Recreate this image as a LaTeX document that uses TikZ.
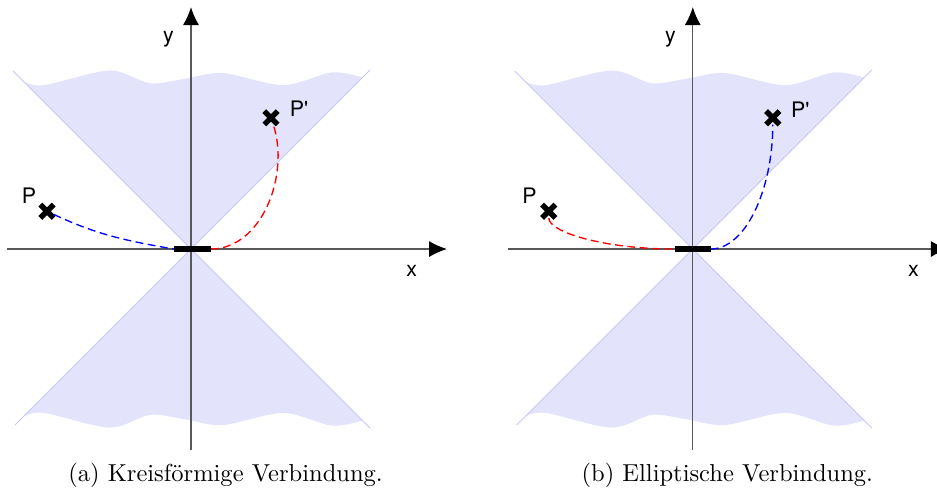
\documentclass[tikz,border=0pt]{standalone}
\usepackage{fontspec}
\usetikzlibrary{arrows.meta,shapes.misc}
\newfontfamily\labelfont{TeX Gyre Heros}
\definecolor{conefill}{RGB}{227,227,251}
\definecolor{coneline}{RGB}{200,200,246}

\begin{document}
\begin{tikzpicture}[>={Latex[length=2.8mm,width=2.5mm,black]},
    axis/.style={black!65, line width=0.55pt},
    cone/.style={coneline, line width=0.4pt},
    ptmark/.style={cross out, draw=black, line width=2.4pt, minimum size=1.25mm, inner sep=0pt},
    lbl/.style={font=\labelfont\fontsize{9.5}{11}\selectfont},
    conn/.style={dash pattern=on 3.5pt off 2pt, line width=0.6pt},
    subcap/.style={font=\fontsize{10.9}{13}\selectfont, anchor=base}]
    \useasboundingbox (-2.984,-3.875) rectangle (11.656,3.891);

    \foreach \s/\n in {0/a,7.84/b}{
        \begin{scope}[xshift=\s cm]
            \foreach \v in {1,-1}
                \fill[conefill, yscale=\v] (0,0) -- plot[smooth] coordinates {(2.68,2.68) (2.2,2.76) (1.44,2.56) (0.5,2.75) (-0.1,2.66) (-0.64,2.59) (-1.27,2.79) (-2.3,2.56) (-2.62,2.62)} -- cycle;
            \draw[cone] (-2.78,2.78) -- (2.8,-2.8) (-2.75,-2.75) -- (2.8,2.8);
            \draw[axis, ->] (0,-3.14) -- (0,3.78);
            \draw[axis, ->] (-2.88,0) -- (4,0);
            \node[lbl] (x\n) at (3.45,-0.34) {x};
            \node[lbl] (y\n) at (-0.35,3.28) {y};
        \end{scope}
    }

    % circular connection
    \coordinate (sl) at (-0.27,0);
    \coordinate (sr) at (0.31,0);
    \node[ptmark] (pa) at (-2.25,0.59) {};
    \node[ptmark] (pb) at (1.25,2.05) {};
    \draw[conn, blue] (pa) to[out=-25,in=170] (sl);
    \draw[conn, red] (sr) .. controls (1.1,0) and (1.55,1.15) .. (pb);
    \draw[line width=2.4pt] (sl) -- (sr);
    \node[lbl] (lpa) at (-2.53,0.84) {P};
    \node[lbl] (lpb) at (1.69,2.19) {P'};
    \node[subcap] (capa) at (0.54,-3.63) {(a) Kreisförmige Verbindung.};

    % elliptic connection
    \begin{scope}[xshift=7.84cm]
        \coordinate (tl) at (-0.28,0);
        \coordinate (tr) at (0.28,0);
        \node[ptmark] (qa) at (-2.25,0.59) {};
        \node[ptmark] (qb) at (1.25,2.05) {};
        \draw[conn, red] (qa) .. controls (-2.25,0.26) and (-1.37,0) .. (tl);
        \draw[conn, blue] (tr) .. controls (0.82,0) and (1.25,0.92) .. (qb);
        \draw[line width=2.4pt] (tl) -- (tr);
        \node[lbl] (lqa) at (-2.55,0.83) {P};
        \node[lbl] (lqb) at (1.68,2.18) {P'};
        \node[subcap] (capb) at (0.54,-3.63) {(b) Elliptische Verbindung.};
    \end{scope}
\end{tikzpicture}
\end{document}
